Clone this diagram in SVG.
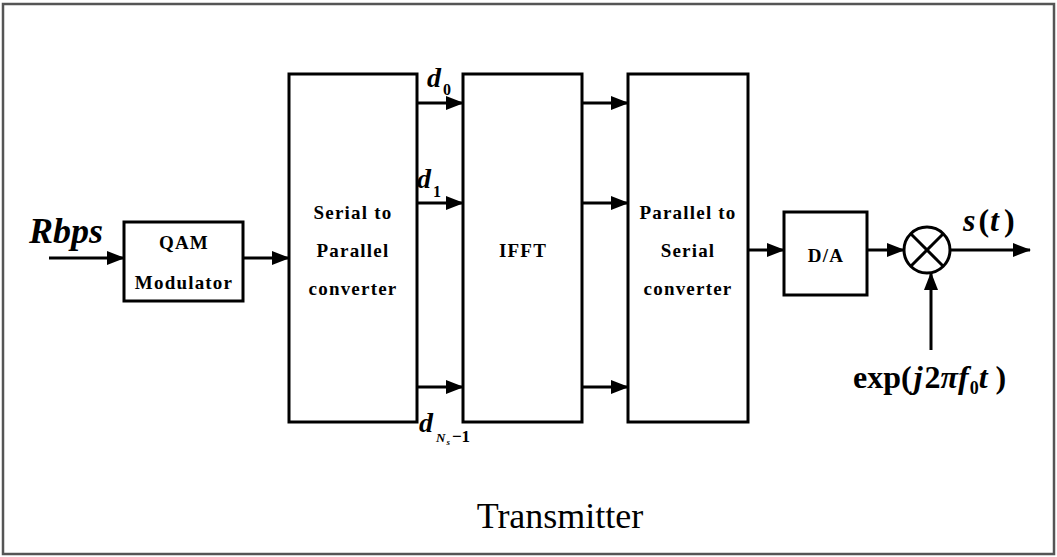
<svg xmlns="http://www.w3.org/2000/svg" width="1057" height="557" viewBox="0 0 1057 557">
<defs>
<marker id="ah" markerWidth="18" markerHeight="14" refX="17" refY="7" orient="auto" markerUnits="userSpaceOnUse">
<path d="M0,0 L18,7 L0,14 Z" fill="#000"/>
</marker>
<style>
.box{fill:#fff;stroke:#000;stroke-width:3}
.ln{stroke:#000;stroke-width:3;fill:none}
.bt{font-weight:bold;font-size:19px;letter-spacing:1.2px;text-anchor:middle;fill:#000}
.lab{font-weight:bold;font-style:italic;fill:#000}
</style>
</defs>
<rect x="3" y="4" width="1051" height="550" fill="#fff" stroke="#555" stroke-width="2.5"/>
<g id="connectors">
<line class="ln" x1="49" y1="258" x2="124" y2="258" marker-end="url(#ah)"/>
<line class="ln" x1="243" y1="258" x2="289" y2="258" marker-end="url(#ah)"/>
<line class="ln" x1="417" y1="103" x2="463" y2="103" marker-end="url(#ah)"/>
<line class="ln" x1="417" y1="203" x2="463" y2="203" marker-end="url(#ah)"/>
<line class="ln" x1="417" y1="387" x2="463" y2="387" marker-end="url(#ah)"/>
<line class="ln" x1="582" y1="103" x2="628" y2="103" marker-end="url(#ah)"/>
<line class="ln" x1="582" y1="203" x2="628" y2="203" marker-end="url(#ah)"/>
<line class="ln" x1="582" y1="387" x2="628" y2="387" marker-end="url(#ah)"/>
<line class="ln" x1="748" y1="250" x2="784" y2="250" marker-end="url(#ah)"/>
<line class="ln" x1="867" y1="250" x2="904" y2="250" marker-end="url(#ah)"/>
<line class="ln" x1="950" y1="250" x2="1030" y2="250" marker-end="url(#ah)"/>
<line class="ln" x1="931" y1="350" x2="931" y2="273" marker-end="url(#ah)"/>
</g>
<g font-family="Liberation Serif, serif">
<g id="qam">
<rect class="box" x="124" y="222" width="119" height="79"/>
<text class="bt" x="184" y="249">QAM</text>
<text class="bt" x="184" y="289">Modulator</text>
</g>
<g id="sp">
<rect class="box" x="289" y="74" width="128" height="348"/>
<text class="bt" x="353" y="219">Serial to</text>
<text class="bt" x="353" y="257">Parallel</text>
<text class="bt" x="353" y="295">converter</text>
</g>
<g id="ifft">
<rect class="box" x="463" y="74" width="119" height="348"/>
<text class="bt" x="523" y="257">IFFT</text>
</g>
<g id="ps">
<rect class="box" x="628" y="74" width="120" height="348"/>
<text class="bt" x="688" y="219">Parallel to</text>
<text class="bt" x="688" y="257">Serial</text>
<text class="bt" x="688" y="295">converter</text>
</g>
<g id="da">
<rect class="box" x="784" y="212" width="83" height="83"/>
<text class="bt" x="826" y="262">D/A</text>
</g>
<g id="mixer">
<circle cx="927" cy="250" r="23" fill="#fff" stroke="#000" stroke-width="3"/>
<line class="ln" x1="911" y1="234" x2="943" y2="266"/>
<line class="ln" x1="943" y1="234" x2="911" y2="266"/>
</g>
<g id="labels">
<text class="lab" x="29" y="243" font-size="36">Rbps</text>
<text class="lab" x="427" y="87" font-size="28">d<tspan font-size="16" dx="2" dy="8" font-style="normal">0</tspan></text>
<text class="lab" x="417" y="188" font-size="28">d<tspan font-size="16" dx="2" dy="9" font-style="normal">1</tspan></text>
<text class="lab" x="419" y="432" font-size="28">d<tspan font-size="13" dx="3" dy="10">N</tspan><tspan font-size="9" dx="1" dy="3">s</tspan><tspan font-size="17" dx="2" dy="-3" font-style="normal">−1</tspan></text>
<text class="lab" x="963" y="231" font-size="32">s<tspan font-style="normal" dx="3">(</tspan><tspan dx="1">t</tspan><tspan font-style="normal" dx="5">)</tspan></text>
<text x="853" y="388" font-weight="bold" font-size="32" fill="#000">exp(<tspan font-style="italic" dx="2">j</tspan><tspan dx="2">2</tspan><tspan font-style="italic">πf</tspan><tspan font-size="18" dx="1" dy="6">0</tspan><tspan dy="-6" font-style="italic">t</tspan><tspan dx="8">)</tspan></text>
<text x="560" y="528" font-size="36" text-anchor="middle" fill="#000">Transmitter</text>
</g>
</g>
</svg>
